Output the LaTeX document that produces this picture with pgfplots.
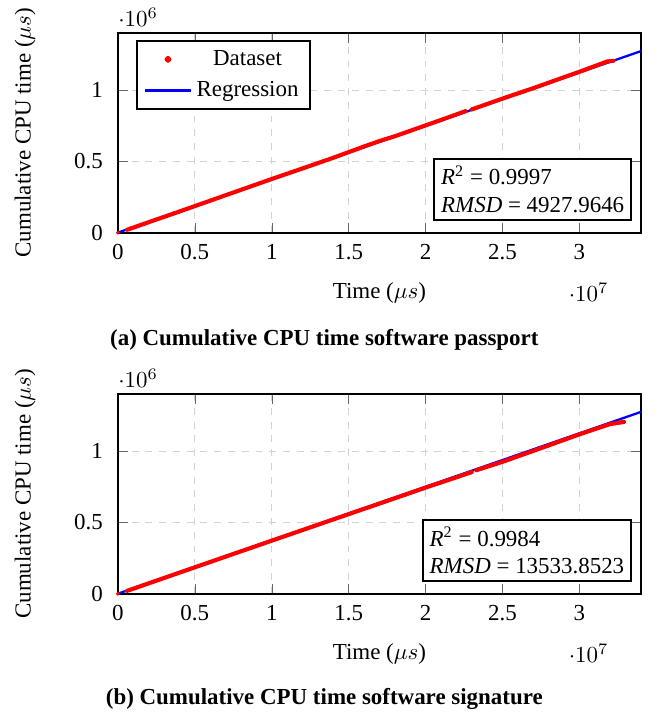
\documentclass[border=0pt]{standalone}
\usepackage{fontspec}
\setmainfont{Liberation Serif}
\usepackage{pgfplots}
\pgfplotsset{compat=1.18}

\pgfplotsset{
  cpustyle/.style={
    scale only axis, width=228pt, height=87pt,
    xmin=0, xmax=3.4e7, ymin=0, ymax=1.4e6,
    xtick={0,5e6,1e7,1.5e7,2e7,2.5e7,3e7},
    ytick={0,5e5,1e6},
    grid=major, major grid style={dashed, gray!35},
    tick style={gray!80!black},
    xlabel={Time ($\mu s$)},
    ylabel={Cumulative CPU time ($\mu s$)},
    ylabel shift=10pt,
    xlabel shift=3pt,
    yticklabel style={xshift=-3pt},
    xticklabel style={yshift=-1.5pt},
    /pgf/number format/assume math mode=true,
    axis line style={line width=0.8pt},
    unbounded coords=jump,
    legend style={at={(0.035,0.965)}, anchor=north west, line width=0.8pt,
      font=\normalsize, row sep=1.5pt},
  },
  dataset/.style={red, line width=1.8pt, line join=round, line cap=round,
    mark=*, mark size=0.8pt, mark options={line width=0.1pt},
    legend image code/.code={\fill[red] (0.35cm,0cm) circle (0.6pt);}},
  regline/.style={blue, line width=1pt,
    legend image code/.code={\draw[blue, line width=1pt] (0cm,0cm) -- (0.7cm,0cm);}},
}

\begin{document}
\begin{tikzpicture}
% (a) passport
\begin{axis}[cpustyle, at={(0,0)}]
\addplot[regline, forget plot] coordinates {(0,0) (3.4e7,1.273e6)};
\addplot[dataset] coordinates {
  (0,0) (1e5,nan)
  (6e5,0.02e6) (2e6,0.073e6) (4e6,0.148e6) (6e6,0.224e6) (8e6,0.300e6)
  (1.0e7,0.376e6) (1.2e7,0.450e6) (1.4e7,0.525e6) (1.6e7,0.604e6)
  (1.7e7,0.642e6) (1.8e7,0.676e6) (2.0e7,0.752e6) (2.1e7,0.790e6)
  (2.26e7,0.852e6) (2.28e7,nan)
  (2.3e7,0.864e6) (2.5e7,0.940e6) (2.7e7,1.013e6) (2.9e7,1.090e6)
  (3.0e7,1.128e6) (3.1e7,1.168e6) (3.18e7,1.200e6) (3.22e7,1.205e6)
};
\addlegendentry{Dataset}
\addlegendimage{regline}
\addlegendentry{Regression}
\node[draw, fill=white, line width=0.8pt, anchor=south east, align=left,
  inner sep=3pt] at (rel axis cs:0.983,0.06)
  {\textit{R}\textsuperscript{2} = 0.9997\\\textit{RMSD} = 4927.9646};
\end{axis}
% (b) signature
\begin{axis}[cpustyle, at={(0,-157.4pt)}]
\addplot[regline, forget plot] coordinates {(0,0) (3.4e7,1.275e6)};
\addplot[dataset, forget plot] coordinates {
  (0,0) (1e5,nan)
  (6e5,0.02e6) (5e6,0.185e6) (1.0e7,0.372e6) (1.5e7,0.558e6)
  (1.7e7,0.632e6) (2.0e7,0.744e6) (2.15e7,0.798e6) (2.3e7,0.853e6) (2.31e7,nan)
  (2.33e7,0.866e6) (2.5e7,0.925e6) (2.8e7,1.040e6) (3.0e7,1.118e6)
  (3.2e7,1.190e6) (3.29e7,1.205e6)
};
\node[draw, fill=white, line width=0.8pt, anchor=south east, align=left,
  inner sep=3pt] at (rel axis cs:0.983,0.06)
  {\textit{R}\textsuperscript{2} = 0.9984\\\textit{RMSD} = 13533.8523};
\end{axis}
\node[font=\bfseries] at (90pt,-46.7pt)
  {(a) Cumulative CPU time software passport};
\node[font=\bfseries] at (90pt,-203.2pt)
  {(b) Cumulative CPU time software signature};
% page margins as in the reference
\path (-51.4pt,101.4pt) (238pt,-210.6pt);
\end{tikzpicture}
\end{document}
